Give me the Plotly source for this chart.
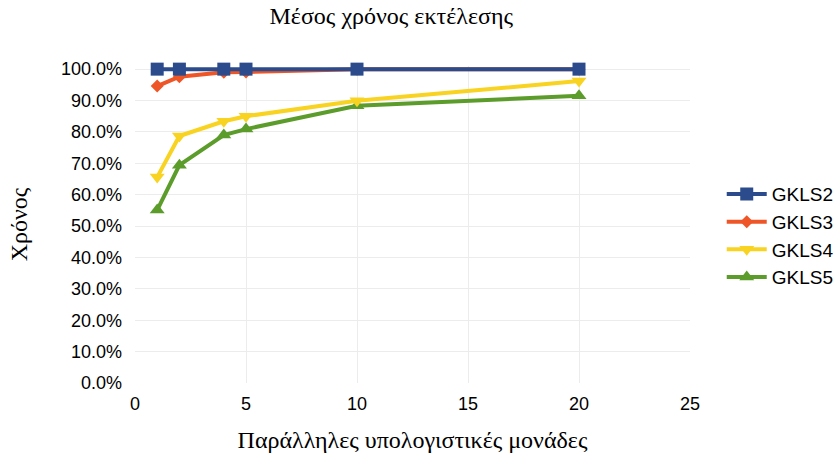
import plotly.graph_objects as go

# Parallel compute units and mean execution time (relative) per test class
units = [1, 2, 4, 5, 10, 20]
gkls2 = [100.0, 100.0, 100.0, 100.0, 100.0, 100.0]
gkls3 = [94.6, 97.6, 99.0, 99.1, 100.0, 100.0]
gkls4 = [65.6, 78.7, 83.4, 85.0, 89.9, 96.2]
gkls5 = [55.1, 69.4, 79.0, 80.9, 88.3, 91.5]

series = [
    ("GKLS2", gkls2, "#2b4b8c", "square", 13),
    ("GKLS3", gkls3, "#ee5527", "diamond", 10),
    ("GKLS4", gkls4, "#f8d321", "triangle-down", 13),
    ("GKLS5", gkls5, "#5b9c2a", "triangle-up", 13),
]

fig = go.Figure()
# draw back-to-front so GKLS2 sits on top
for name, vals, color, sym, size in reversed(series):
    fig.add_trace(go.Scatter(
        x=units, y=[v / 100 for v in vals], name=name, mode="lines+markers",
        line=dict(color=color, width=4), cliponaxis=False,
        marker=dict(symbol=sym, size=size, color=color),
    ))

# a little headroom above 100% so the top line is not clipped
fig.update_layout(
    width=836, height=459,
    margin=dict(l=135, r=0, t=66, b=76, autoexpand=False),
    paper_bgcolor="white", plot_bgcolor="white",
    title=dict(text="Μέσος χρόνος εκτέλεσης", x=0.468, xref="container",
               xanchor="center", y=0.985, yanchor="top",
               font=dict(family="Liberation Serif", size=24, color="#000")),
    legend=dict(x=0.837, y=0.465, yanchor="middle", traceorder="reversed",
                font=dict(family="Liberation Sans", size=19, color="#000"),
                itemwidth=40, tracegroupgap=0),
    showlegend=True,
)
fig.update_xaxes(range=[0, 25], dtick=5, domain=[0, 555 / 701], showgrid=True, gridcolor="#ececec",
                 zeroline=False, showline=False, ticks="", ticklabelstandoff=8,
                 tickfont=dict(family="Liberation Sans", size=18, color="#000"),
                 title=dict(text="Παράλληλες υπολογιστικές μονάδες", standoff=18,
                            font=dict(family="Liberation Serif", size=24, color="#000")))
fig.update_yaxes(range=[0, 1.01], tickvals=[i / 10 for i in range(11)], tickformat=".1%",
                 showgrid=True, gridcolor="#ececec",
                 zeroline=False, showline=False, ticks="", ticklabelstandoff=12,
                 tickfont=dict(family="Liberation Sans", size=18, color="#000"),
                 title=dict(text="Χρόνος", standoff=26,
                            font=dict(family="Liberation Serif", size=24, color="#000")))

fig.write_html("out.html")
